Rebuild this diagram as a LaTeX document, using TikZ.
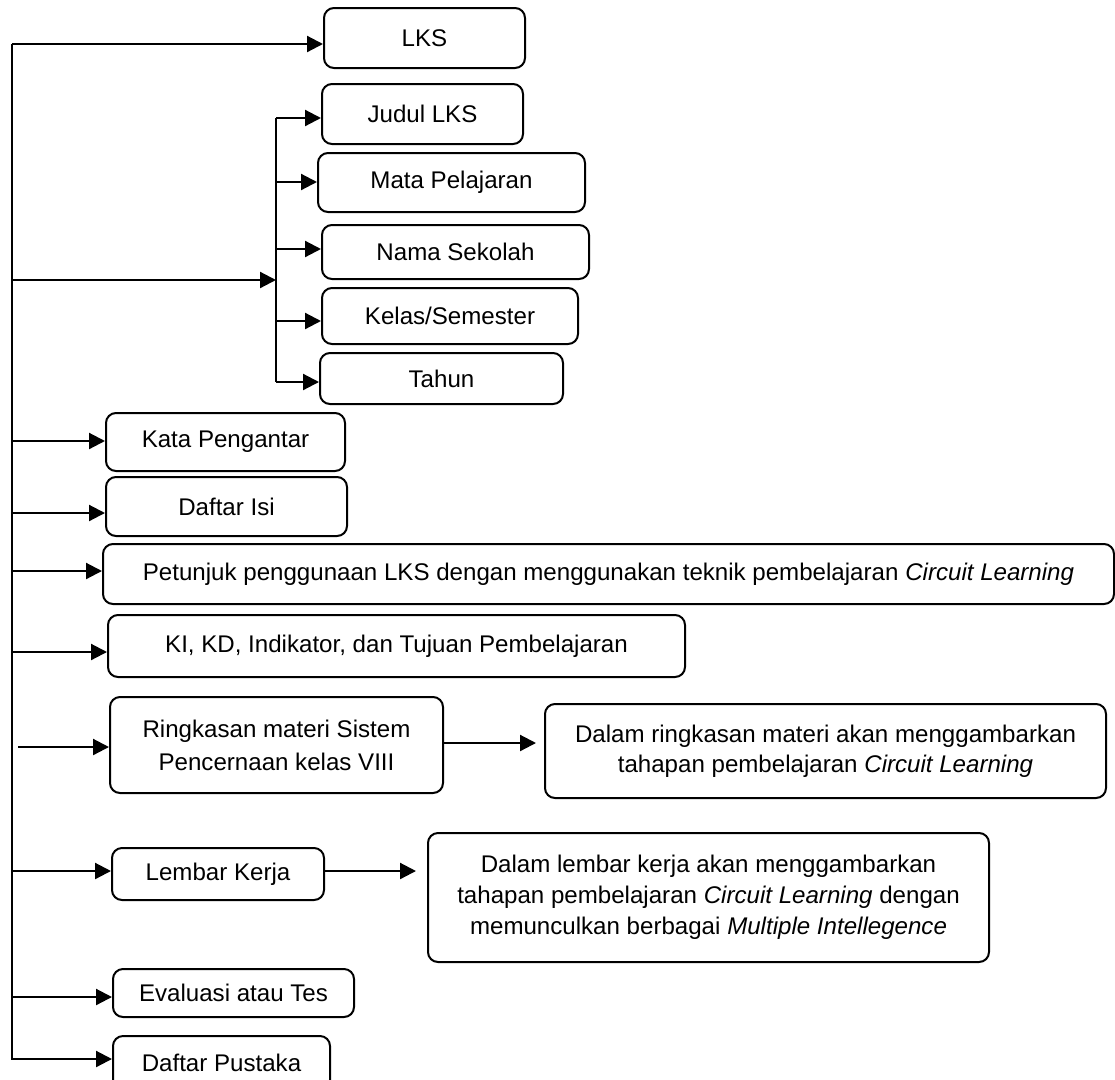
\documentclass[tikz,border=0pt]{standalone}
\usepackage{fontspec}
\setmainfont{Liberation Sans}
\usetikzlibrary{arrows.meta}
\begin{document}
\begin{tikzpicture}[x=1pt,y=-1pt,
  box/.style={draw, line width=2pt, rounded corners=10pt, inner sep=0pt,
    align=center, font=\fontsize{24.1}{30}\selectfont},
  conn/.style={line width=2.2pt, -{Triangle[length=16pt,width=16pt]}},
  trunk/.style={line width=2.6pt}]
\useasboundingbox (0,0) rectangle (1115,1079);

% boxes
\node[box, minimum width=201, minimum height=60] (lks) at (424.5,38) {LKS};
\node[box, minimum width=201, minimum height=60] (judul) at (422.5,114) {Judul LKS};
\node[box, minimum width=267, minimum height=59] (mata) at (451.5,182.5) {Mata Pelajaran};
\node[box, minimum width=267, minimum height=54] (nama) at (455.5,252) {Nama Sekolah};
\node[box, minimum width=256, minimum height=56] (kelas) at (450,316) {Kelas/Semester};
\node[box, minimum width=243, minimum height=51] (tahun) at (441.5,378.5) {Tahun};
\node[box, minimum width=239, minimum height=58] (kata) at (225.5,442) {Kata Pengantar};
\node[box, minimum width=241, minimum height=59] (isi) at (226.5,506.5) {Daftar Isi};
\node[box, minimum width=1011, minimum height=60] (petunjuk) at (608.5,574)
  {Petunjuk penggunaan LKS dengan menggunakan teknik pembelajaran \textit{Circuit Learning}};
\node[box, minimum width=577, minimum height=62] (ki) at (396.5,646)
  {KI, KD, Indikator, dan Tujuan Pembelajaran};
\node[box, minimum width=333, minimum height=96, font=\fontsize{24.1}{33}\selectfont] (ring) at (276.5,745)
  {Ringkasan materi Sistem\\Pencernaan kelas VIII};
\node[box, minimum width=561, minimum height=94] (dring) at (825.5,751)
  {Dalam ringkasan materi akan menggambarkan\\tahapan pembelajaran \textit{Circuit Learning}};
\node[box, minimum width=212, minimum height=52] (lembar) at (218,874) {Lembar Kerja};
\node[box, minimum width=561, minimum height=129, font=\fontsize{24.1}{31}\selectfont] (dlembar) at (708.5,897.5)
  {Dalam lembar kerja akan menggambarkan\\tahapan pembelajaran \textit{Circuit Learning} dengan\\memunculkan berbagai \textit{Multiple Intellegence}};
\node[box, minimum width=241, minimum height=48] (eval) at (233.5,993) {Evaluasi atau Tes};
\node[box, minimum width=217, minimum height=54] (pustaka) at (221.5,1063) {Daftar Pustaka};

% trunk coordinates
\coordinate (mtop) at (12,44);
\coordinate (mbot) at (12,1060);
\coordinate (m0) at (12,44);
\coordinate (mb) at (12,280);
\coordinate (m1) at (12,441);
\coordinate (m2) at (12,513);
\coordinate (m3) at (12,571);
\coordinate (m4) at (12,652);
\coordinate (m5) at (18,747);
\coordinate (m6) at (12,871);
\coordinate (m7) at (12,997);
\coordinate (m8) at (12,1059);
% sub-branch
\coordinate (stop) at (276,118);
\coordinate (sbot) at (276,382);
\coordinate (sb) at (276,280);
\coordinate (s1) at (276,118);
\coordinate (s2) at (276,182);
\coordinate (s3) at (276,249);
\coordinate (s4) at (276,321);
\coordinate (s5) at (276,382);

\draw[trunk] (mtop) -- (mbot);
\draw[line width=2.2pt] (stop) -- (sbot);

\draw[conn] (m0) -- (m0 -| lks.west);
\draw[conn] (mb) -- (sb);
\draw[conn] (s1) -- (s1 -| judul.west);
\draw[conn] (s2) -- (s2 -| mata.west);
\draw[conn] (s3) -- (s3 -| nama.west);
\draw[conn] (s4) -- (s4 -| kelas.west);
\draw[conn] (s5) -- (s5 -| tahun.west);
\draw[conn] (m1) -- (m1 -| kata.west);
\draw[conn] (m2) -- (m2 -| isi.west);
\draw[conn] (m3) -- (m3 -| petunjuk.west);
\draw[conn] (m4) -- (m4 -| ki.west);
\draw[conn] (m5) -- (m5 -| ring.west);
\draw[conn] (m6) -- (m6 -| lembar.west);
\draw[conn] (m7) -- (m7 -| eval.west);
\draw[conn] (m8) -- (m8 -| pustaka.west);

\draw[conn, shorten >=8pt] ([yshift=2pt]ring.east) -- ([yshift=2pt]ring.east -| dring.west);
\draw[conn, shorten >=11pt] ([yshift=3pt]lembar.east) -- ([yshift=3pt]lembar.east -| dlembar.west);
\end{tikzpicture}
\end{document}
